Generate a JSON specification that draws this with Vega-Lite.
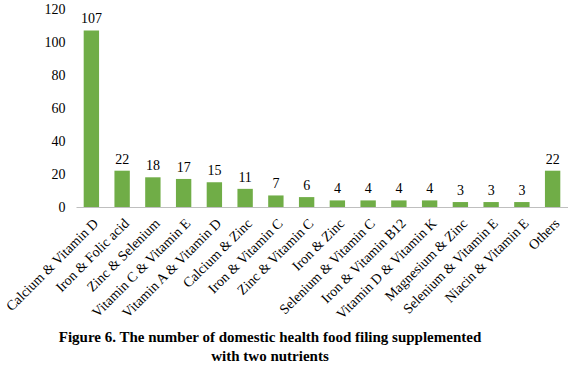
{
  "$schema": "https://vega.github.io/schema/vega-lite/v6.json",
  "autosize": {"type": "none"},
  "padding": {"left": 76, "top": 9, "right": 0, "bottom": 158},
  "width": 492,
  "height": 198,
  "background": "white",
  "config": {"view": {"stroke": null}, "font": "Liberation Serif"},
  "title": {
    "text": ["Figure 6. The number of domestic health food filing supplemented", "with two nutrients"],
    "orient": "bottom",
    "anchor": "middle",
    "dx": -52,
    "offset": 9,
    "font": "Liberation Serif",
    "fontSize": 15,
    "fontWeight": "bold",
    "lineHeight": 19,
    "color": "black"
  },
  "data": {
    "values": [
      {"name": "Calcium & Vitamin D", "n": 107},
      {"name": "Iron & Folic acid", "n": 22},
      {"name": "Zinc & Selenium", "n": 18},
      {"name": "Vitamin C & Vitamin E", "n": 17},
      {"name": "Vitamin A & Vitamin D", "n": 15},
      {"name": "Calcium & Zinc", "n": 11},
      {"name": "Iron & Vitamin C", "n": 7},
      {"name": "Zinc & Vitamin C", "n": 6},
      {"name": "Iron & Zinc", "n": 4},
      {"name": "Selenium & Vitamin C", "n": 4},
      {"name": "Iron &  Vitamin B12", "n": 4},
      {"name": "Vitamin D & Vitamin K", "n": 4},
      {"name": "Magnesium & Zinc", "n": 3},
      {"name": "Selenium &  Vitamin E", "n": 3},
      {"name": "Niacin & Vitamin E", "n": 3},
      {"name": "Others", "n": 22}
    ]
  },
  "encoding": {
    "x": {
      "field": "name", "type": "nominal", "sort": null,
      "scale": {"paddingInner": 0.5, "paddingOuter": 0.25},
      "axis": {
        "title": null, "labelAngle": -45, "ticks": false, "domainColor": "#bfbfbf", "domainWidth": 1,
        "labelFont": "Liberation Serif", "labelFontSize": 14, "labelColor": "black", "labelPadding": 9, "labelLimit": 300
      }
    },
    "y": {
      "field": "n", "type": "quantitative",
      "scale": {"domain": [0, 120]},
      "axis": {
        "title": null, "values": [0, 20, 40, 60, 80, 100, 120], "grid": false, "domain": false, "ticks": false,
        "labelFont": "Liberation Serif", "labelFontSize": 14, "labelColor": "black", "labelPadding": 11
      }
    }
  },
  "layer": [
    {"mark": {"type": "bar", "color": "#70ad47"}},
    {"mark": {"type": "text", "dy": -11, "font": "Liberation Serif", "fontSize": 14, "color": "black"},
     "encoding": {"text": {"field": "n", "type": "quantitative"}}}
  ]
}
